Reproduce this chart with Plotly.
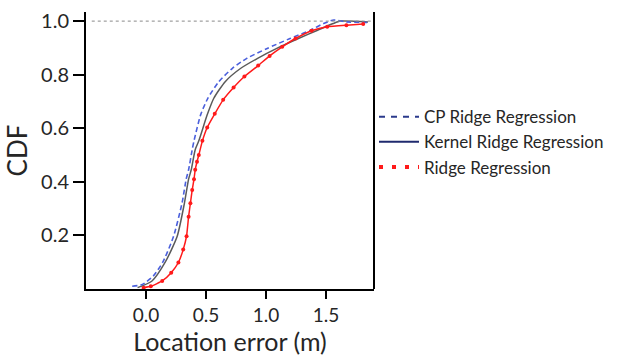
import plotly.graph_objects as go

# CP Ridge Regression (blue dashed)
cp_x = [-0.115, -0.03, 0.06, 0.14, 0.23, 0.30, 0.335, 0.355, 0.385, 0.40, 0.455, 0.515, 0.607, 0.72, 0.84, 1.01, 1.20, 1.37, 1.48, 1.565, 1.67, 1.85]
cp_y = [0.01, 0.017, 0.048, 0.10, 0.197, 0.32, 0.41, 0.445, 0.52, 0.553, 0.65, 0.712, 0.774, 0.824, 0.861, 0.898, 0.935, 0.966, 0.991, 1.004, 0.997, 0.995]

# Kernel Ridge Regression (solid)
krr_x = [-0.07, 0.05, 0.16, 0.26, 0.32, 0.355, 0.377, 0.41, 0.44, 0.51, 0.565, 0.66, 0.79, 0.93, 1.09, 1.27, 1.43, 1.56, 1.62, 1.85]
krr_y = [0.005, 0.03, 0.10, 0.197, 0.32, 0.41, 0.445, 0.52, 0.553, 0.65, 0.712, 0.774, 0.824, 0.861, 0.898, 0.935, 0.966, 0.991, 1.0, 0.997]

# Ridge Regression (red with dots)
rr_x = [-0.02, 0.04, 0.135, 0.21, 0.27, 0.31, 0.338, 0.355, 0.37, 0.385, 0.40, 0.41, 0.425, 0.44, 0.47, 0.51, 0.573, 0.643, 0.73, 0.82, 0.935, 1.03, 1.135, 1.246, 1.38, 1.51, 1.67, 1.81]
rr_y = [0.005, 0.01, 0.03, 0.061, 0.099, 0.147, 0.197, 0.27, 0.32, 0.37, 0.41, 0.445, 0.475, 0.50, 0.553, 0.603, 0.654, 0.706, 0.752, 0.793, 0.834, 0.870, 0.904, 0.935, 0.964, 0.979, 0.985, 0.989]

x_ticks = [0.0, 0.5, 1.0, 1.5]
x_tick_labels = ["0.0", "0.5", "1.0", "1.5"]
y_ticks = [0.2, 0.4, 0.6, 0.8, 1.0]
y_tick_labels = ["0.2", "0.4", "0.6", "0.8", "1.0"]
legend_names = ["CP Ridge Regression", "Kernel Ridge Regression", "Ridge Regression"]

FONT = "Lato"
TXT = "#262626"
fig = go.Figure()

fig.add_trace(go.Scatter(x=krr_x, y=krr_y, mode="lines", showlegend=False,
                         line=dict(color="#5a5a5a", width=1.5, shape="spline", smoothing=0.6)))
fig.add_trace(go.Scatter(x=cp_x, y=cp_y, mode="lines", showlegend=False,
                         line=dict(color="#4a5fdc", width=1.6, dash="5px,3px", shape="spline", smoothing=0.6)))
fig.add_trace(go.Scatter(x=rr_x, y=rr_y, mode="lines+markers", showlegend=False,
                         line=dict(color="#ff1a1a", width=1.5, shape="spline", smoothing=0.4),
                         marker=dict(size=4, color="#ff1a1a")))

# legend-only entries
fig.add_trace(go.Scatter(x=[None], y=[None], mode="lines", name=legend_names[0],
                         line=dict(color="#2b3a8c", width=2, dash="6px,6px")))
fig.add_trace(go.Scatter(x=[None], y=[None], mode="lines", name=legend_names[1],
                         line=dict(color="#1f2a6e", width=2)))
fig.add_trace(go.Scatter(x=[None], y=[None], mode="lines", name=legend_names[2],
                         line=dict(color="#ff1a1a", width=4, dash="4px,9px")))

fig.add_shape(type="line", xref="paper", yref="y", x0=0.02, x1=1, y0=1.0, y1=1.0,
              line=dict(color="#8a8a8a", width=1, dash="dot"))
fig.add_shape(type="line", xref="paper", yref="paper", x0=1, x1=1, y0=0, y1=1,
              line=dict(color="black", width=2))

fig.update_layout(
    width=621, height=356,
    margin=dict(l=86, r=247, t=12, b=67, autoexpand=False),
    paper_bgcolor="white", plot_bgcolor="white",
    font=dict(family=FONT, color=TXT),
    xaxis=dict(range=[-0.5, 1.9], tickmode="array", tickvals=x_ticks, ticktext=x_tick_labels,
               showline=True, linecolor="black", linewidth=2, ticks="outside", ticklen=8,
               tickwidth=2, tickcolor="black", showgrid=False, zeroline=False, automargin=True,
               tickfont=dict(size=19, family=FONT, color=TXT),
               title=dict(text="Location error (m)", font=dict(size=25, family=FONT, color=TXT), standoff=2)),
    yaxis=dict(range=[0, 1.034], tickmode="array", tickvals=y_ticks, ticktext=y_tick_labels,
               showline=True, linecolor="black", linewidth=2, ticks="outside", ticklen=11,
               tickwidth=2, tickcolor="black", showgrid=False, zeroline=False, automargin=False,
               tickfont=dict(size=20, family=FONT, color=TXT),
               title=dict(text="CDF", font=dict(size=26, family=FONT, color=TXT), standoff=6)),
    legend=dict(x=1.0, xanchor="left", y=0.53, yanchor="middle", bgcolor="rgba(0,0,0,0)",
                font=dict(size=17, family=FONT, color=TXT), tracegroupgap=0, itemwidth=40),
)

fig.write_html("out.html")
